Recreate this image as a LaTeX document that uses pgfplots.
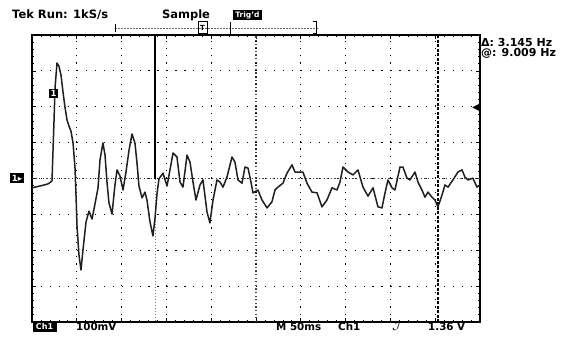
\documentclass[border=0pt]{standalone}
\usepackage{pgfplots}
\pgfplotsset{compat=1.18}
\usepackage{fontspec}
\setmainfont{DejaVu Sans}
\begin{document}
\begin{tikzpicture}[x=1pt,y=1pt]
\useasboundingbox (0,0) rectangle (568,338);
\begin{axis}[
  at={(32pt,16pt)}, anchor=south west, scale only axis,
  width=448pt, height=287pt,
  xmin=0, xmax=500, ymin=-400, ymax=400,
  xtick={0,50,...,500}, ytick={-400,-300,...,400},
  xticklabels={}, yticklabels={},
  grid=major,
  major x grid style={black, line width=1.2pt, dash pattern=on 1.2pt off 5.98pt},
  major y grid style={black, line width=1.2pt, dash pattern=on 1.2pt off 7.76pt},
  minor x tick num=4, minor y tick num=4,
  tick align=inside, major tick length=4pt, minor tick length=2.5pt,
  tick style={black, line width=0.7pt},
  axis line style={black, line width=1.1pt},
  clip=false,
]
% centre graticule lines
\draw[black!75, line width=1.1pt, dash pattern=on 1.2pt off 2.4pt] (axis cs:250,-400) -- (axis cs:250,400);
\draw[black!75, line width=1.1pt, dash pattern=on 1.2pt off 2.4pt] (axis cs:0,0) -- (axis cs:500,0);
% cursors
\draw[black, line width=1.6pt] (axis cs:137.3,400) -- (axis cs:137.3,0);
\draw[black!50, line width=0.5pt, dash pattern=on 1pt off 2pt] (axis cs:137.3,0) -- (axis cs:137.3,-400);
\draw[black, line width=1.7pt, dash pattern=on 3pt off 1.5pt] (axis cs:453,-400) -- (axis cs:453,400);
\draw[black, line width=2pt] (axis cs:500,38) -- (axis cs:500,288);
\addplot[black!88, line width=1.5pt, line join=round] coordinates {
(0,-26) (8.9,-21) (17.9,-15) (22.3,-7) (24.6,163) (25.7,252) (27.9,322) (30.1,313)
(32.4,288) (34.6,241) (36.8,199) (39.1,163) (41.3,146) (43.5,132) (45.8,99) (48.0,29)
(49.1,-46) (50.2,-130) (52.4,-213) (54.7,-255) (56.9,-199) (60.3,-121) (63.6,-91) (67.0,-113)
(70.3,-71) (73.7,-26) (75.9,52) (79.2,99) (81.5,65) (83.7,-10) (85.9,-68) (89.3,-99)
(92.6,-18) (94.9,24) (98.2,7) (101.6,-32) (104.9,18) (108.3,79) (111.6,124) (114.9,99)
(117.2,43) (119.4,-21) (122.8,-54) (126.1,-38) (128.3,-60) (131.7,-121) (135.0,-160) (137.3,-110)
(139.5,-43) (141.7,-1) (146.2,15) (150.7,-21) (154.0,24) (157.4,71) (161.8,60) (165.2,-10)
(168.5,-24) (173.0,65) (176.3,46) (179.7,-10) (183.0,-60) (187.5,-18) (190.8,-4) (195.3,-93)
(198.6,-124) (202.0,-60) (206.5,-4) (209.8,-10) (213.2,-24) (217.6,4) (223.2,60) (226.5,46)
(229.9,-4) (234.4,-13) (237.7,32) (241.1,29) (244.4,-10) (246.6,-40) (252.2,-32) (256.7,-60)
(262.3,-82) (267.8,-65) (271.2,-32) (274.5,-24) (280.1,-13) (284.6,15) (290.2,38) (293.5,18)
(302.4,18) (306.9,-13) (312.5,-38) (318.1,-40) (323.6,-79) (329.2,-60) (334.8,-26) (340.4,-32)
(343.7,-10) (347.1,32) (352.7,18) (358.3,10) (363.8,24) (369.4,-24) (375.0,-49) (380.6,-26)
(386.1,-79) (390.6,-82) (394.0,-40) (397.3,-4) (401.8,-26) (405.1,-32) (410.7,32) (414.0,32)
(418.5,1) (421.8,-4) (427.4,18) (430.8,-10) (435.2,-32) (438.6,-52) (441.9,-38) (446.4,-52)
(449.7,-60) (453.1,-79) (457.6,-46) (460.9,-18) (464.3,-24) (469.8,-4) (475.4,18) (479.9,24)
(483.2,4) (486.6,-4) (492.1,1) (496.6,-24) (500,-18)
};
% channel marker
\node[fill=black, text=white, font=\bfseries\fontsize{8.5}{9}\selectfont, inner sep=1.8pt] at (axis cs:24,237) {1};
\node[font=\fontsize{10}{10}\selectfont, text=black, inner sep=0pt, anchor=east] at (axis cs:500,196) {◀};
\end{axis}
% top record bracket
\draw[black!60, line width=0.7pt, dash pattern=on 2pt off 1pt] (115,310) -- (318,310);
\draw[black, line width=0.8pt] (115,306) -- (115,314);
\draw[black, line width=0.8pt] (230,304) -- (230,316);
\draw[black, line width=1pt] (313,316) -- (316,316) -- (316,304) -- (313,304);
\draw[black, line width=1pt] (198,304) rectangle (207,316);
\node[font=\bfseries\fontsize{7}{7}\selectfont, inner sep=0pt] at (202.5,310) {T};
% header texts
\node[anchor=west, font=\bfseries\fontsize{11.5}{12}\selectfont, inner sep=0pt] at (12,323) {Tek Run: 1kS/s};
\node[font=\bfseries\fontsize{11.5}{12}\selectfont, inner sep=0pt] at (186,323) {Sample};
\node[fill=black, text=white, font=\bfseries\fontsize{7.5}{8}\selectfont, inner sep=1.8pt, minimum width=29pt] at (247.5,323) {Trig'd};
\node[anchor=west, font=\bfseries\fontsize{11}{11}\selectfont, inner sep=0pt] at (481,296) {Δ: 3.145 Hz};
\node[anchor=west, font=\bfseries\fontsize{11}{11}\selectfont, inner sep=0pt] at (481,285) {@: 9.009 Hz};
% left ground marker
\node[fill=black, text=white, font=\bfseries\fontsize{8.5}{9}\selectfont, inner sep=2pt] at (17,160) {1▸};
% bottom texts
\node[fill=black, text=white, font=\bfseries\fontsize{8}{8}\selectfont, inner sep=1.8pt, minimum width=24pt] at (44.5,11) {Ch1};
\node[anchor=west, font=\bfseries\fontsize{10.3}{10}\selectfont, inner sep=0pt] at (76,11.5) {100mV};
\node[anchor=west, font=\bfseries\fontsize{10.3}{10}\selectfont, inner sep=0pt] at (276,11.5) {M 50ms};
\node[anchor=west, font=\bfseries\fontsize{10.3}{10}\selectfont, inner sep=0pt] at (338,11.5) {Ch1};
\node[font=\bfseries\fontsize{11}{10}\selectfont, inner sep=0pt] at (397,11.5) {$\mathcal{J}$};
\node[anchor=west, font=\bfseries\fontsize{10.3}{10}\selectfont, inner sep=0pt] at (428,11.5) {1.36 V};
\end{tikzpicture}
\end{document}
